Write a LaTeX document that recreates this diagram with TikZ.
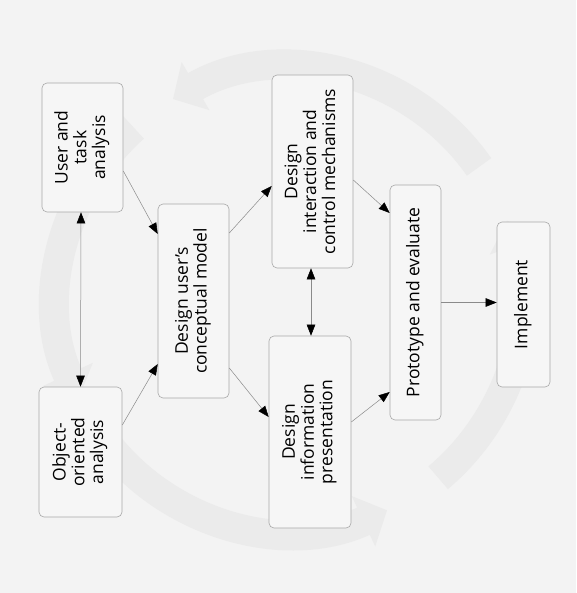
\documentclass[tikz,border=0pt]{standalone}
\usepackage{fontspec}
\setmainfont{Open Sans}
\usetikzlibrary{arrows.meta}
\definecolor{bgc}{HTML}{F3F3F3}
\definecolor{boxc}{HTML}{F6F6F6}
\definecolor{bandc}{HTML}{EBEBEB}
\definecolor{edgec}{HTML}{A8A8A8}
\definecolor{linec}{HTML}{8A8A8A}
\newcommand{\vtext}[1]{\rotatebox{90}{\fontsize{17.5}{18.5}\selectfont\begin{tabular}{@{}c@{}}#1\end{tabular}}}
\tikzset{
  box/.style={draw=edgec, line width=0.6pt, rounded corners=5pt, fill=boxc, inner sep=0pt, align=center},
  tipa/.tip={Triangle[length=11pt,width=8.5pt,color=black]},
  conn/.style={draw=linec, line width=0.5pt, -tipa},
  dconn/.style={draw=linec, line width=0.5pt, tipa-tipa},
  band/.style={draw=bandc, line width=30pt, -{Triangle[length=26pt,width=54pt]}}
}
\begin{document}
\begin{tikzpicture}[x=1pt,y=-1pt]
\fill[bgc] (0,0) rectangle (576,593);
\useasboundingbox (0,0) rectangle (576,593);
% background cycle arrows
\draw[band] (289,300) ++(-35:232) arc[start angle=-35, end angle=-120, radius=232];
\draw[band] (289,300) ++(-132:232) arc[start angle=-132, end angle=-205, radius=232];
\draw[band] (289,300) ++(-218:232) arc[start angle=-218, end angle=-295, radius=232];
\draw[band] (289,300) ++(-310:232) arc[start angle=-310, end angle=-380, radius=232];
% boxes
\node[box, minimum width=81pt, minimum height=129pt] (ua) at (82.5,147.5) {\vtext{User and\\task\\analysis}};
\node[box, minimum width=83pt, minimum height=130pt] (oo) at (80.5,452) {\vtext{Object-\\oriented\\analysis}};
\node[box, minimum width=71pt, minimum height=194pt] (cm) at (193.5,301) {\vtext{Design user's\\conceptual model}};
\node[box, minimum width=81pt, minimum height=193pt] (ic) at (312.5,171.5) {\vtext{Design\\interaction and\\control mechanisms}};
\node[box, minimum width=82pt, minimum height=192pt] (ip) at (310,432) {\vtext{Design\\information\\presentation}};
\node[box, minimum width=51pt, minimum height=235pt] (pe) at (415.5,302.5) {\vtext{Prototype and evaluate}};
\node[box, minimum width=53pt, minimum height=165pt] (im) at (523.5,304.5) {\vtext{Implement}};
% connectors
\draw[conn] ([yshift=-23.5pt]ua.east) -- ([yshift=67pt]cm.west);
\draw[conn] ([yshift=27pt]oo.east) -- ([yshift=-63pt]cm.west);
\draw[dconn] ([xshift=-1.5pt]ua.south) -- (oo.north);
\draw[conn] ([yshift=68pt]cm.east) -- ([yshift=-14.5pt]ic.west);
\draw[conn] ([yshift=-67pt]cm.east) -- ([yshift=15pt]ip.west);
\draw[dconn] ([xshift=-1.5pt]ic.south) -- ([xshift=1pt]ip.north);
\draw[conn] ([yshift=-8.5pt]ic.east) -- ([yshift=89.5pt]pe.west);
\draw[conn] ([yshift=10pt]ip.east) -- ([yshift=-89.5pt]pe.west);
\draw[conn] (pe.east) -- (pe.east -| im.west);
\end{tikzpicture}
\end{document}
